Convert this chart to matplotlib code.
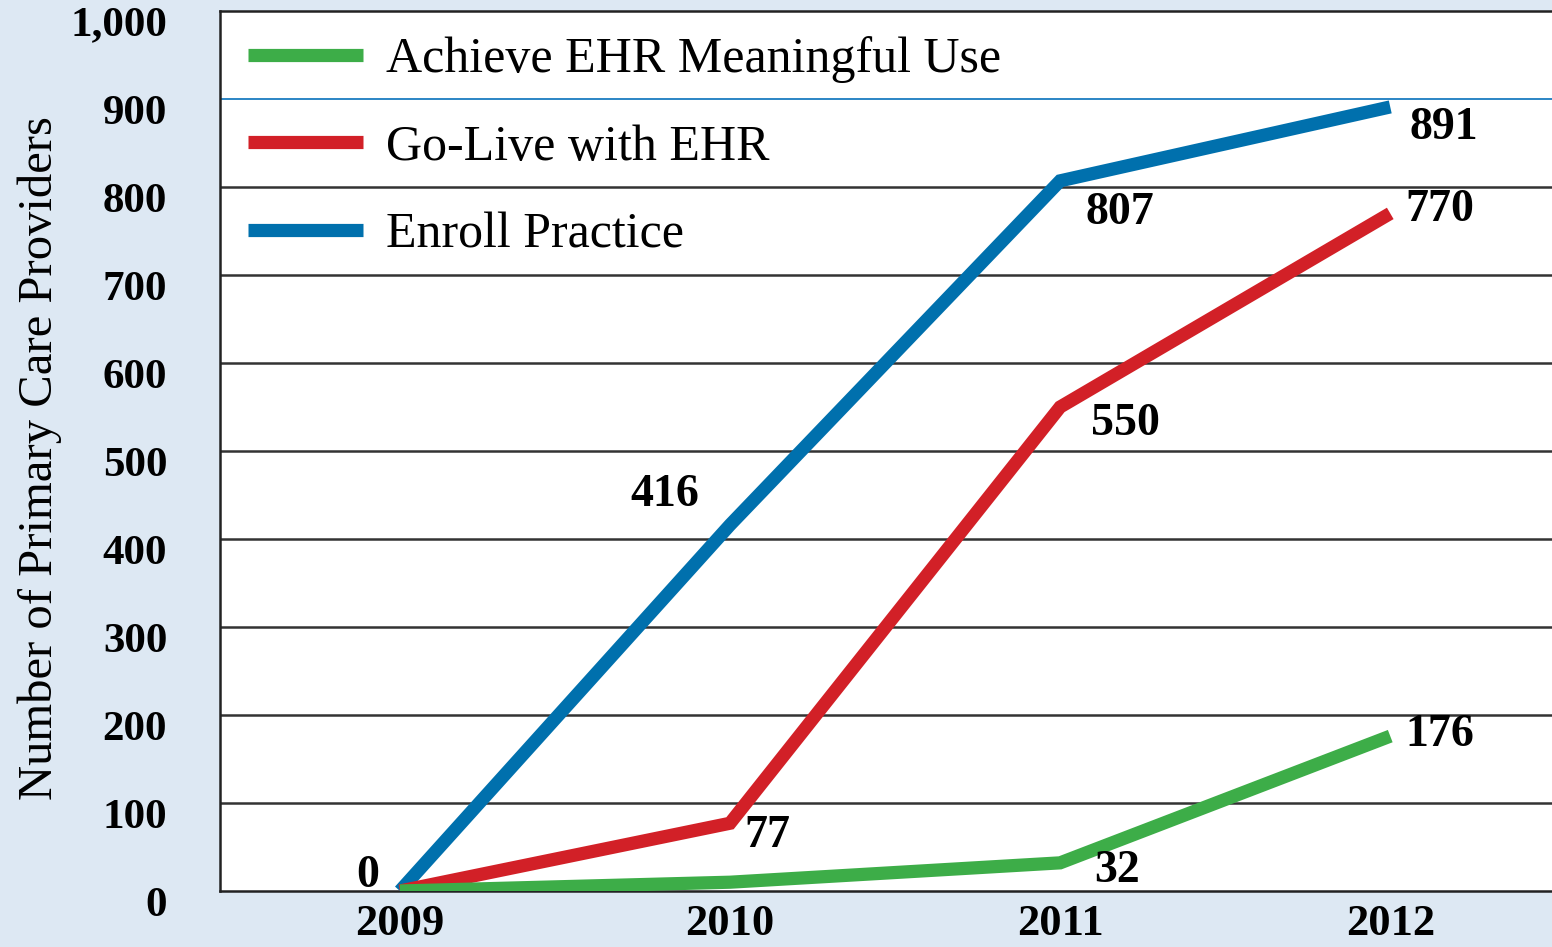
import matplotlib.pyplot as plt
import matplotlib.transforms as mtransforms

years = [2009, 2010, 2011, 2012]
enroll = [0, 416, 807, 891]
golive = [0, 77, 550, 770]
meaningful = [0, 10, 32, 176]

enroll_labels = {2010: "416", 2011: "807", 2012: "891"}
golive_labels = {2010: "77", 2011: "550", 2012: "770"}
meaningful_labels = {2009: "0", 2011: "32", 2012: "176"}

yticks = [0, 100, 200, 300, 400, 500, 600, 700, 800, 900, 1000]
ytick_labels = ["0", "100", "200", "300", "400", "500", "600", "700", "800", "900", "1,000"]


def main():
    plt.rcParams["font.family"] = ["Liberation Serif", "DejaVu Serif"]
    bg = "#dde8f3"
    fig = plt.figure(figsize=(15.52, 9.47), dpi=100, facecolor=bg)
    ax = fig.add_axes([220 / 1552, 56 / 947, 1 - 220 / 1552, 880 / 947])
    ax.set_facecolor("white")

    # grid lines
    for v in yticks[1:-1]:
        if v == 900:
            ax.axhline(v, color="#1a7cc0", lw=1.3, zorder=1)
        else:
            ax.axhline(v, color="#333333", lw=1.8, zorder=1)

    blue = "#0070ad"
    red = "#d22027"
    green = "#3dad48"
    lb, = ax.plot(years, enroll, color=blue, lw=9.5, solid_joinstyle="miter",
                  solid_capstyle="butt", zorder=3, label="Enroll Practice")
    lr, = ax.plot(years, golive, color=red, lw=9.5, solid_joinstyle="miter",
                  solid_capstyle="butt", zorder=4, label="Go-Live with EHR")
    lg, = ax.plot(years, meaningful, color=green, lw=9.5, solid_joinstyle="miter",
                  solid_capstyle="butt", zorder=5, label="Achieve EHR Meaningful Use")

    ax.set_xlim(2008.455, 2012.49)
    ax.set_ylim(0, 1000)

    for s in ["top", "left", "bottom"]:
        ax.spines[s].set_color("#222222")
        ax.spines[s].set_linewidth(1.8)
    ax.spines["right"].set_visible(False)

    ax.set_yticks(yticks)
    ax.set_yticklabels(ytick_labels, fontsize=31, fontweight="bold")
    ax.set_xticks(years)
    ax.set_xticklabels([str(y) for y in years], fontsize=32, fontweight="bold")
    ax.tick_params(axis="y", length=0, pad=38)
    ax.tick_params(axis="x", length=0, pad=9)
    offset = mtransforms.ScaledTranslation(0, -10 / 100, fig.dpi_scale_trans)
    for t in ax.get_yticklabels():
        t.set_transform(t.get_transform() + offset)

    fig.text(40 / 1552, 1 - 458 / 947, "Number of Primary Care Providers",
             rotation=90, ha="center", va="center", fontsize=35)

    lab_kw = dict(textcoords="offset pixels", fontsize=33, fontweight="bold",
                  ha="center", va="center", zorder=6)
    enroll_off = {2010: (-65, 30), 2011: (60, -32), 2012: (54, -21)}
    golive_off = {2010: (37, -13), 2011: (65, -17), 2012: (50, 3)}
    mean_off = {2009: (-32, 15), 2011: (57, -8), 2012: (50, 1)}
    for x, y in zip(years, enroll):
        if x in enroll_labels:
            ax.annotate(enroll_labels[x], (x, y), xytext=enroll_off[x], **lab_kw)
    for x, y in zip(years, golive):
        if x in golive_labels:
            ax.annotate(golive_labels[x], (x, y), xytext=golive_off[x], **lab_kw)
    for x, y in zip(years, meaningful):
        if x in meaningful_labels:
            ax.annotate(meaningful_labels[x], (x, y), xytext=mean_off[x], **lab_kw)

    ax.legend(handles=[lg, lr, lb], loc="upper left", bbox_to_anchor=(0.021, 0.971),
              frameon=False, fontsize=36, handlelength=2.3, handletextpad=0.47,
              labelspacing=0.82, borderpad=0, borderaxespad=0)

    fig.savefig("out.png", dpi=100, facecolor=bg)


if __name__ == "__main__":
    main()
